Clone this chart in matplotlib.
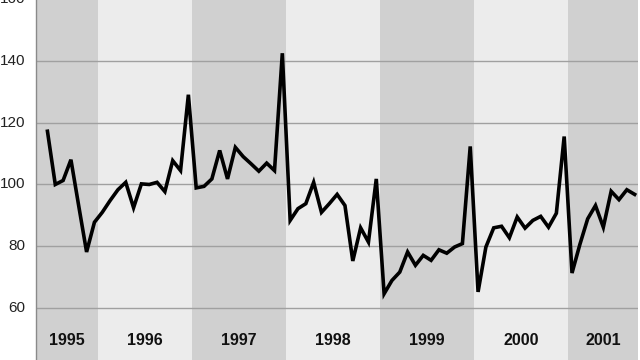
import matplotlib
matplotlib.use("Agg")
import matplotlib.pyplot as plt
import numpy as np

years = [1995, 1996, 1997, 1998, 1999, 2000, 2001]
start_year, start_month = 1995, 6  # first observation: June 1995
values = [
    # 1995 Jun-Dec
    117.2, 100.0, 101.3, 108.0, 93.0, 78.2, 87.8,
    # 1996
    91.0, 94.8, 98.3, 100.7, 92.5, 100.2, 100.0, 100.7, 97.7, 107.7, 104.5, 129.0,
    # 1997
    98.9, 99.4, 101.8, 111.0, 101.8, 112.0, 109.0, 106.7, 104.3, 106.9, 104.5, 142.4,
    # 1998
    88.4, 92.2, 93.8, 100.7, 91.0, 93.8, 96.8, 93.2, 75.3, 86.0, 81.4, 101.8,
    # 1999
    64.7, 69.0, 71.7, 78.2, 73.9, 77.1, 75.5, 78.9, 77.8, 79.8, 80.9, 112.3,
    # 2000
    65.3, 79.8, 86.0, 86.5, 82.8, 89.5, 85.9, 88.4, 89.7, 86.2, 90.7, 115.5,
    # 2001 Jan-Sep
    71.4, 80.6, 88.9, 93.2, 86.2, 97.8, 95.1, 98.3, 96.8,
]
y_ticks = [60, 80, 100, 120, 140, 160]

months = np.arange(len(values)) + (start_month - 1)
x = start_year + (months + 0.5) / 12.0

fig = plt.figure(figsize=(6.4, 3.6), dpi=100)
ax = fig.add_axes([36 / 640, 0, (638 - 36) / 640, 1])
xmin, xmax = 1995.3365, 2001.744
ax.set_xlim(xmin, xmax)
ax.set_ylim(43.3, 159.6)

dark, light = "#d0d0d0", "#ececec"
for i, yr in enumerate(years):
    ax.axvspan(yr, yr + 1, color=dark if i % 2 == 0 else light, zorder=0, lw=0)
    cx = (max(yr, xmin) + min(yr + 1, xmax)) / 2
    ax.text(cx, 49.5, str(yr), ha="center", va="center", fontsize=11.5,
            fontweight="bold", family="Liberation Sans", color="#111111")

for t in y_ticks:
    ax.axhline(t, color="#a0a0a0", lw=1.0, zorder=1)
    ax.text(-0.018, t, str(t), transform=ax.get_yaxis_transform(), ha="right",
            va="center", fontsize=11, family="Liberation Sans", color="#222222",
            clip_on=False)

ax.plot(x, values, color="black", lw=2.6, zorder=3, solid_joinstyle="miter")

for s in ["top", "right", "bottom"]:
    ax.spines[s].set_visible(False)
ax.spines["left"].set_color("#8a8a8a")
ax.spines["left"].set_linewidth(1.0)
ax.set_xticks([])
ax.set_yticks([])

fig.savefig("out.png", dpi=100, facecolor="white")
